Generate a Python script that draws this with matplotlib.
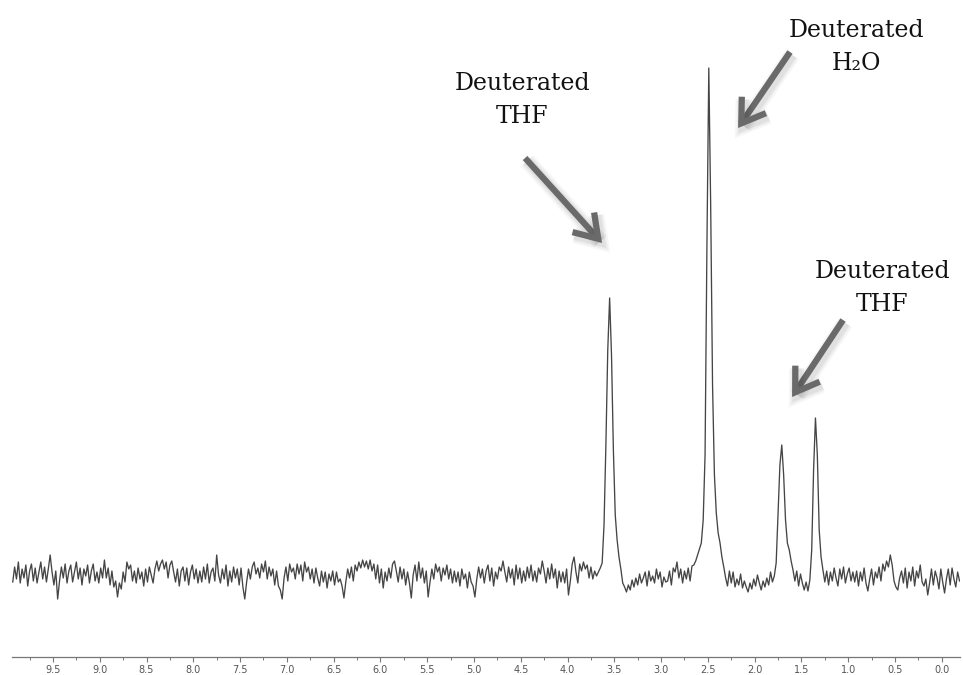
import numpy as np
import matplotlib
matplotlib.use("Agg")
import matplotlib.pyplot as plt
import matplotlib.patheffects as pe
from matplotlib.ticker import MultipleLocator, FormatStrFormatter

# 1H NMR trace: intensities (a.u.) sampled every 0.02 ppm from 9.93 ppm down
# to -0.19 ppm; one row per 0.5 ppm.
shift_start = 9.93
shift_step = 0.02
intensity = [
    # 9.93 - 9.45
    -7, 8, -4, 13, -8, 6, -3, 10, -11, 4, 11, -6, 7, -8, 3, 13, -4, 8, -7, 6, 20, 3, -10, 4, -24,
    # 9.43 - 8.95
    -6, 8, -3, 11, -8, 4, 10, -7, 3, 13, -4, 7, -10, 6, -1, 10, -8, 4, 11, -6, 3, -8, 7, -3, 15,
    # 8.93 - 8.45
    -3, 7, -10, 4, -12, -6, -22, -8, -14, 3, -7, 13, 6, 10, -6, 4, -8, 7, -4, 3, -11, 6, -7, 8, 0,
    # 8.43 - 7.95
    -8, 6, 14, 4, 11, 15, 6, 13, -3, 10, 14, 3, -7, 6, -11, 4, 8, -6, 7, -10, 3, 10, -4, 6, -8,
    # 7.93 - 7.45
    4, -7, 8, -4, 11, -8, 3, 7, -6, 20, 0, -8, 6, -4, 10, -11, 4, -7, 8, -3, 6, -10, 7, -12, -24,
    # 7.43 - 6.95
    -7, 6, -4, 8, 13, 1, 7, -3, 11, 3, 14, -4, 8, -1, 6, -10, 4, -11, -15, -24, -3, 8, -6, 11, 3,
    # 6.93 - 6.45
    7, -4, 11, 1, 10, -6, 13, 3, 8, -4, 6, -8, 7, -3, -11, 4, -7, 3, -13, 1, -6, 4, -10, 3, -7,
    # 6.43 - 5.95
    -4, -11, -23, -7, 6, -3, 8, -6, 10, 4, 13, 7, 15, 8, 14, 6, 15, 4, 11, -4, 10, -8, 6, -13, 3,
    # 5.93 - 5.45
    -6, 7, -3, 11, 14, 4, -7, 8, -4, 6, -10, 3, -8, -23, 0, 10, -6, 13, -3, 7, -8, 4, -22, -7, 6,
    # 5.43 - 4.95
    -4, 11, 3, 8, -6, 7, 0, 10, -4, 6, -8, 4, -7, 3, -11, 6, -4, 1, -13, 3, -7, -11, -22, -4, 8,
    # 4.93 - 4.45
    -3, 6, -8, 4, 10, -6, 7, -11, 3, -4, 8, 4, 14, 3, -7, 8, -3, 6, -10, 10, -4, 7, -8, 4, -6,
    # 4.43 - 3.95
    8, -3, 10, -6, 4, -7, 7, 1, 14, 4, -8, 7, -4, 11, -3, 6, -13, 4, -7, 3, -8, 6, -20, -6, 11,
    # 3.93 - 3.45  (THF, 3.55 ppm)
    18, 3, -8, 11, 4, 13, 6, 10, -3, 8, -4, 4, -1, 3, 7, 12, 50, 130, 225, 277, 220, 125, 60, 35, 18,
    # 3.43 - 2.95
    6, -8, -12, -17, -10, -15, -5, -12, -3, -10, 1, -8, -3, 3, -11, 4, -6, -1, -8, 6, -4, 3, -12, -2, -7,
    # 2.93 - 2.45  (water, 2.49 ppm)
    -6, 4, -10, 7, 3, 13, -3, 6, -8, 4, -4, 7, -6, 9, 10, 14, 20, 26, 32, 55, 120, 330, 507, 370, 190,
    # 2.43 - 1.95
    100, 62, 42, 32, 18, 8, -3, -11, 4, -8, 3, -12, -4, -10, 1, -13, -6, -12, -17, -8, -14, -4, -11, 0, -8,
    # 1.93 - 1.45  (THF, 1.71 ppm)
    -15, -6, -12, -3, -10, 3, -7, -1, 12, 62, 110, 130, 100, 55, 32, 25, 14, 5, -6, 4, -11, 1, -8, -15, -7,
    # 1.43 - 0.95  (THF, 1.35 ppm)
    -16, -5, 25, 105, 157, 120, 45, 18, 5, -7, 4, -10, 3, -6, 7, -3, -11, 6, -4, 8, -8, 1, 7, -6, 3,
    # 0.93 - 0.45
    -7, 4, -11, 3, -6, 7, -8, -16, -4, 6, -10, 3, -3, 8, -6, 11, 4, 14, 8, 20, 10, -6, -12, -15, -3,
    # 0.43 - -0.05
    4, -8, 7, -13, 3, -6, 8, -11, 4, -3, 10, -7, -11, -4, -20, -8, 6, -10, 4, -3, -14, 6, -7, -18, -4,
    # -0.07 - -0.19
    6, -10, 7, -4, -12, 3, -6,
]

tick_major = 0.5
tick_minor = 0.25

labels = [
    ("Deuterated", "THF"),
    ("Deuterated", "H\u2082O"),
    ("Deuterated", "THF"),
]

n = len(intensity)
shift = np.linspace(shift_start, shift_start - shift_step * (n - 1), n)

W, H = 963, 675
fig = plt.figure(figsize=(W / 100, H / 100), dpi=100)
ax = fig.add_axes([12 / W, 18 / H, 948 / W, 657 / H])

ax.plot(shift, intensity, color="#454545", lw=0.95, solid_joinstyle="round")

ax.set_xlim(9.938, -0.195)
ax.set_ylim(-82, 575)

for s in ("left", "right", "top"):
    ax.spines[s].set_visible(False)
ax.spines["bottom"].set_color("#777777")
ax.spines["bottom"].set_linewidth(0.9)
ax.set_yticks([])
ax.xaxis.set_major_locator(MultipleLocator(tick_major))
ax.xaxis.set_minor_locator(MultipleLocator(tick_minor))
ax.xaxis.set_major_formatter(FormatStrFormatter("%.1f"))
ax.tick_params(axis="x", which="major", direction="out", length=3.5, width=0.8,
               color="#777777", labelsize=7, labelcolor="#555555", pad=2)
ax.tick_params(axis="x", which="minor", direction="out", length=2.5, width=0.7,
               color="#777777")
ax.patch.set_visible(False)

# callout layout: (text centre ppm, first baseline, second baseline, arrow tail, arrow tip)
callouts = [
    (4.486, 485, 452, (4.454, 417), (3.631, 332)),
    (0.906, 538, 505, (1.622, 523), (2.177, 447)),
    (0.638, 297, 264, (1.055, 255), (1.600, 178)),
]

shadow = [pe.SimpleLineShadow(offset=(1.5, -2), shadow_color="black",
                              alpha=a, linewidth=w)
          for a, w in ((0.03, 12), (0.04, 9.5), (0.05, 7))] + [pe.Normal()]

for (line1, line2), (tx, b1, b2, tail, tip) in zip(labels, callouts):
    ax.text(tx, b1, line1, ha="center", va="baseline", fontsize=17,
            family="DejaVu Serif", color="#111111")
    ax.text(tx, b2, line2, ha="center", va="baseline", fontsize=17,
            family="DejaVu Serif", color="#111111")
    ax.annotate("", xy=tip, xytext=tail,
                arrowprops=dict(arrowstyle="->,head_length=1.6,head_width=1.05",
                                lw=4.5, color="#6a6a6a", shrinkA=0, shrinkB=0,
                                capstyle="butt", joinstyle="miter",
                                path_effects=shadow))

fig.savefig("out.png", dpi=100)
